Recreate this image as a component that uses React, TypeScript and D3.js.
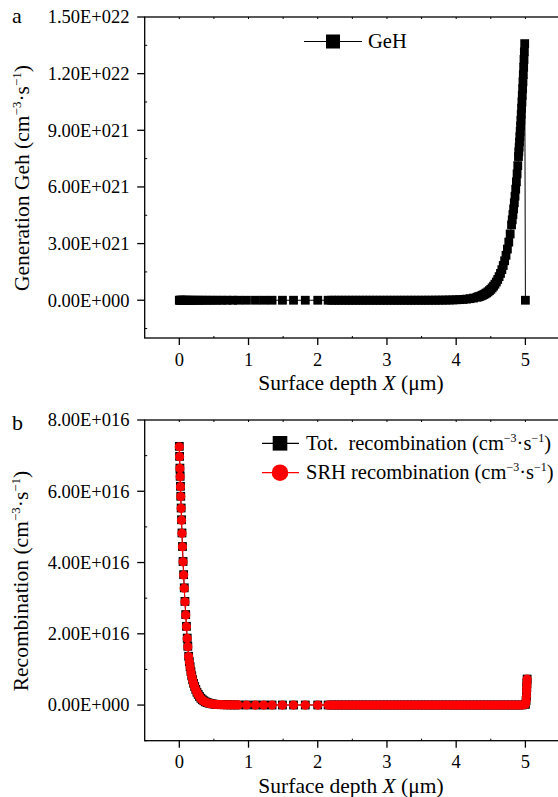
import React from 'react';
import * as d3 from 'd3';

// panel a: hole generation rate along the depth
const depthGeh = [
  0, 0.01, 0.02, 0.03, 0.045, 0.06, 0.08, 0.1, 0.12, 0.15, 0.18, 0.21, 0.25, 0.29, 0.33, 0.38,
  0.43, 0.49, 0.55, 0.62, 0.69, 0.77, 0.85, 0.97, 1.1, 1.22, 1.34, 1.49, 1.65, 1.82, 2.0, 2.15,
  2.2, 2.25, 2.3, 2.35, 2.4, 2.45, 2.5, 2.55, 2.6, 2.65, 2.7, 2.75, 2.8, 2.85, 2.9, 2.95,
  3.0, 3.05, 3.1, 3.15, 3.2, 3.25, 3.3, 3.35, 3.4, 3.45, 3.5, 3.55, 3.6, 3.65, 3.7, 3.75,
  3.8, 3.85, 3.9, 3.95, 4.0, 4.05, 4.1, 4.15, 4.2, 4.25, 4.3, 4.32, 4.34, 4.36, 4.38, 4.4,
  4.42, 4.44, 4.46, 4.48, 4.5, 4.52, 4.54, 4.56, 4.58, 4.6, 4.62, 4.64, 4.66, 4.68, 4.7, 4.72,
  4.74, 4.76, 4.78, 4.8, 4.81, 4.82, 4.83, 4.84, 4.85, 4.86, 4.87, 4.88, 4.89, 4.9, 4.905,
  4.91, 4.915, 4.92, 4.925, 4.93, 4.935, 4.94, 4.945, 4.95, 4.955, 4.96, 4.965, 4.97, 4.975,
  4.98, 4.985, 4.99, 5.0,
];
const gehValues = [
  0, 0, 0, 0, 0, 0, 0, 0, 0, 0, 0, 0, 0, 0, 0, 0,
  0, 0, 0, 0, 0, 0, 0, 0, 0, 0, 0, 0, 0, 0, 0, 0,
  0, 0, 0, 0, 0, 0, 0, 0, 0, 0, 0, 0, 0, 0, 0, 0,
  3.6e16, 5e16, 6.8e16, 9.5e16, 1.3e17, 1.8e17, 2.5e17, 3.5e17, 4.8e17, 6.6e17, 9.1e17, 1.25e18, 1.7e18, 2.4e18, 3.3e18, 4.6e18,
  6.3e18, 8.7e18, 1.2e19, 1.66e19, 2.3e19, 3.2e19, 4.4e19, 6.0e19, 8.3e19, 1.15e20, 1.58e20, 1.8e20, 2.05e20, 2.33e20, 2.66e20, 3.02e20,
  3.44e20, 3.91e20, 4.45e20, 5.06e20, 5.76e20, 6.55e20, 7.45e20, 8.48e20, 9.65e20, 1.1e21, 1.25e21, 1.42e21, 1.62e21, 1.84e21, 2.09e21, 2.38e21,
  2.71e21, 3.08e21, 3.51e21, 3.99e21, 4.26e21, 4.54e21, 4.84e21, 5.16e21, 5.51e21, 5.88e21, 6.27e21, 6.69e21, 7.13e21, 7.61e21, 7.86e21,
  8.11e21, 8.38e21, 8.66e21, 8.94e21, 9.23e21, 9.53e21, 9.85e21, 1.017e22, 1.05e22, 1.085e22, 1.12e22, 1.157e22, 1.195e22, 1.234e22,
  1.275e22, 1.316e22, 1.359e22, 0,
];

// panel b: recombination rates along the depth
const depthRec = [
  0, 0.004, 0.0085, 0.012, 0.0165, 0.021, 0.0265, 0.032, 0.0385, 0.0455, 0.054, 0.0625, 0.0715, 0.0815, 0.0925, 0.103,
  0.114, 0.123, 0.135, 0.145, 0.156, 0.168, 0.18, 0.193, 0.207, 0.222, 0.238, 0.255, 0.273, 0.292, 0.312, 0.333,
  0.355, 0.378, 0.402, 0.428, 0.455, 0.485, 0.52, 0.56, 0.6, 0.645, 0.69, 0.74, 0.795, 0.85, 0.97, 1.1,
  1.22, 1.34, 1.49, 1.65, 1.82, 2.0, 2.15, 2.2, 2.25, 2.3, 2.35, 2.4, 2.45, 2.5, 2.55, 2.6,
  2.65, 2.7, 2.75, 2.8, 2.85, 2.9, 2.95, 3.0, 3.05, 3.1, 3.15, 3.2, 3.25, 3.3, 3.35, 3.4,
  3.45, 3.5, 3.55, 3.6, 3.65, 3.7, 3.75, 3.8, 3.85, 3.9, 3.95, 4.0, 4.05, 4.1, 4.15, 4.2,
  4.25, 4.3, 4.35, 4.4, 4.45, 4.5, 4.55, 4.6, 4.65, 4.7, 4.75, 4.8, 4.85, 4.9, 4.95, 5.0,
  5.01, 5.015, 5.018, 5.02, 5.022, 5.025,
];
const totRecValues = [
  7.26e16, 6.98e16, 6.65e16, 6.42e16, 6.14e16, 5.86e16, 5.53e16, 5.2e16, 4.83e16, 4.45e16, 4.03e16, 3.66e16, 3.29e16, 2.91e16, 2.54e16, 2.21e16,
  1.88e16, 1.65e16, 1.37e16, 1.22e16, 1.08e16, 9.4e15, 8.2e15, 7.1e15, 6.1e15, 5.2e15, 4.4e15, 3.6e15, 3.0e15, 2.4e15, 1.9e15, 1.5e15,
  1.2e15, 9e14, 7e14, 5.4e14, 4.1e14, 3e14, 2.2e14, 1.6e14, 1.2e14, 9e13, 7e13, 5.5e13, 4.5e13, 3.5e13, 2.5e13, 2e13,
  1.5e13, 1.5e13, 1.5e13, 1.5e13, 1.5e13, 1.5e13, 1.5e13, 1.5e13, 1.5e13, 1.5e13, 1.5e13, 1.5e13, 1.5e13, 1.5e13, 1.5e13, 1.5e13,
  1.5e13, 1.5e13, 1.5e13, 1.5e13, 1.5e13, 1.5e13, 1.5e13, 1.5e13, 1.5e13, 1.5e13, 1.5e13, 1.5e13, 1.5e13, 1.5e13, 1.5e13, 1.5e13,
  1.5e13, 1.5e13, 1.5e13, 1.5e13, 1.5e13, 1.5e13, 1.5e13, 1.5e13, 1.5e13, 1.5e13, 1.5e13, 1.5e13, 1.5e13, 1.5e13, 1.5e13, 1.5e13,
  1.5e13, 1.5e13, 1.5e13, 1.5e13, 1.5e13, 1.5e13, 1.5e13, 1.5e13, 1.5e13, 1.5e13, 1.5e13, 1.5e13, 1.5e13, 1.5e13, 1.5e13, 2e14,
  1.2e15, 2.5e15, 3.8e15, 5.0e15, 6.2e15, 7.3e15,
];
const srhRecValues = [
  7.25e16, 6.97e16, 6.64e16, 6.41e16, 6.13e16, 5.85e16, 5.52e16, 5.19e16, 4.82e16, 4.44e16, 4.02e16, 3.65e16, 3.28e16, 2.9e16, 2.53e16, 2.2e16,
  1.87e16, 1.64e16, 1.36e16, 1.21e16, 1.07e16, 9.3e15, 8.1e15, 7.0e15, 6.0e15, 5.1e15, 4.3e15, 3.5e15, 2.9e15, 2.3e15, 1.8e15, 1.4e15,
  1.1e15, 8.5e14, 6.5e14, 5e14, 3.8e14, 2.8e14, 2e14, 1.5e14, 1.1e14, 8e13, 6e13, 5e13, 4e13, 3e13, 2e13, 1e13,
  1e13, 1e13, 1e13, 1e13, 1e13, 1e13, 1e13, 1e13, 1e13, 1e13, 1e13, 1e13, 1e13, 1e13, 1e13, 1e13,
  1e13, 1e13, 1e13, 1e13, 1e13, 1e13, 1e13, 1e13, 1e13, 1e13, 1e13, 1e13, 1e13, 1e13, 1e13, 1e13,
  1e13, 1e13, 1e13, 1e13, 1e13, 1e13, 1e13, 1e13, 1e13, 1e13, 1e13, 1e13, 1e13, 1e13, 1e13, 1e13,
  1e13, 1e13, 1e13, 1e13, 1e13, 1e13, 1e13, 1e13, 1e13, 1e13, 1e13, 1e13, 1e13, 1e13, 1e13, 2e14,
  1.2e15, 2.5e15, 3.8e15, 5.0e15, 6.2e15, 7.3e15,
];

const depthTicks = [0, 1, 2, 3, 4, 5];
const gehTicks = [0, 3e21, 6e21, 9e21, 1.2e22, 1.5e22];
const gehTickLabels = ['0.00E+000', '3.00E+021', '6.00E+021', '9.00E+021', '1.20E+022', '1.50E+022'];
const recTicks = [0, 2e16, 4e16, 6e16, 8e16];
const recTickLabels = ['0.00E+000', '2.00E+016', '4.00E+016', '6.00E+016', '8.00E+016'];

const FONT = '"Liberation Serif", "Times New Roman", serif';
const W = 558;
const H = 797;
const LEFT = 144.7;
const RIGHT = 560;

const x = d3.scaleLinear().domain([-0.5, 5.5]).range([LEFT, RIGHT]);

function Unit({ sup = 13 }) {
  return (
    <>
      (cm
      <tspan dy={-8} fontSize={sup}>−3</tspan>
      <tspan dy={8}>·s</tspan>
      <tspan dy={-8} fontSize={sup}>−1</tspan>
      <tspan dy={8}>)</tspan>
    </>
  );
}

function Frame({ y, ticks, labels, minor, top, bottom }) {
  const minorX = d3.range(0.5, 5.6, 1);
  return (
    <g fontFamily={FONT} fill="#000">
      <rect x={LEFT} y={top} width={RIGHT - LEFT} height={bottom - top} fill="none" stroke="#000" strokeWidth={1.3} />
      {depthTicks.map((t) => (
        <g key={'xb' + t}>
          <line x1={x(t)} x2={x(t)} y1={bottom} y2={bottom + 7} stroke="#000" strokeWidth={1.3} />
          <line x1={x(t)} x2={x(t)} y1={top} y2={top + 2} stroke="#000" strokeWidth={1} />
          <text x={x(t)} y={bottom + 27.5} fontSize={18.5} textAnchor="middle">{t}</text>
        </g>
      ))}
      {minorX.map((t) => (
        <g key={'xm' + t}>
          <line x1={x(t)} x2={x(t)} y1={bottom} y2={bottom - 2} stroke="#000" strokeWidth={1} />
          <line x1={x(t)} x2={x(t)} y1={top} y2={top + 2} stroke="#000" strokeWidth={1} />
        </g>
      ))}
      {ticks.map((t, i) => (
        <g key={'y' + t}>
          <line x1={LEFT - 7.5} x2={LEFT} y1={y(t)} y2={y(t)} stroke="#000" strokeWidth={1.3} />
          <text x={129.5} y={y(t) + 6.3} fontSize={18.5} textAnchor="end">{labels[i]}</text>
        </g>
      ))}
      {minor.map((t) => (
        <line key={'ym' + t} x1={LEFT} x2={LEFT + 2.5} y1={y(t)} y2={y(t)} stroke="#000" strokeWidth={1} />
      ))}
      <text x={351} y={bottom + 52} fontSize={21.5} textAnchor="middle">
        Surface depth <tspan fontStyle="italic">X</tspan> (μm)
      </text>
    </g>
  );
}

export default function App() {
  const yA = d3.scaleLinear().domain([-2e21, 1.5e22]).range([338, 17]);
  const yB = d3.scaleLinear().domain([-1e16, 8e16]).range([740.7, 420]);

  const gehPts = depthGeh.map((d, i) => [x(d), yA(gehValues[i])]);
  const totPts = depthRec.map((d, i) => [x(d), yB(totRecValues[i])]);
  const srhPts = depthRec.map((d, i) => [x(d), yB(srhRecValues[i])]);
  const line = d3.line();
  const sq = 8.8;
  const r = 4.6;

  return (
    <svg width={W} height={H} style={{ position: 'absolute', left: 0, top: 0, background: '#fff' }}>
      <rect width={W} height={H} fill="#fff" />

      {/* panel a */}
      <Frame
        y={yA}
        ticks={gehTicks}
        labels={gehTickLabels}
        minor={d3.range(-1.5e21, 1.5e22, 3e21)}
        top={17}
        bottom={338}
      />
      <text x={12} y={23} fontFamily={FONT} fontSize={22}>a</text>
      <text transform="translate(29,178) rotate(-90)" fontFamily={FONT} fontSize={21.5} textAnchor="middle">
        Generation Geh <Unit />
      </text>
      <path d={line(gehPts)} fill="none" stroke="#000" strokeWidth={1} />
      {gehPts.map(([px, py], i) => (
        <rect key={i} x={px - sq / 2} y={py - sq / 2} width={sq} height={sq} fill="#000" />
      ))}
      <g fontFamily={FONT}>
        <line x1={304} x2={362} y1={41.5} y2={41.5} stroke="#000" strokeWidth={1.2} />
        <rect x={333 - 7} y={41.5 - 7} width={14} height={14} fill="#000" />
        <text x={368} y={48} fontSize={20.5}>GeH</text>
      </g>

      {/* panel b */}
      <Frame
        y={yB}
        ticks={recTicks}
        labels={recTickLabels}
        minor={d3.range(-1e16, 8e16, 2e16)}
        top={420}
        bottom={740.7}
      />
      <text x={12} y={430} fontFamily={FONT} fontSize={22}>b</text>
      <text transform="translate(28,581) rotate(-90)" fontFamily={FONT} fontSize={21.5} textAnchor="middle">
        Recombination <Unit />
      </text>
      <path d={line(totPts)} fill="none" stroke="#000" strokeWidth={1} />
      {totPts.map(([px, py], i) => (
        <rect key={i} x={px - sq / 2} y={py - sq / 2} width={sq} height={sq} fill="#000" />
      ))}
      <path d={line(srhPts)} fill="none" stroke="#ff0000" strokeWidth={1} />
      {srhPts.map(([px, py], i) => (
        <circle key={i} cx={px} cy={py} r={r} fill="#ff0000" />
      ))}
      <g fontFamily={FONT} fontSize={20.5}>
        <line x1={262} x2={299} y1={443.3} y2={443.3} stroke="#000" strokeWidth={1.2} />
        <rect x={280 - 7.3} y={443.3 - 7.3} width={14.6} height={14.6} fill="#000" />
        <text x={306} y={449.5} style={{ whiteSpace: 'pre' }}>
          {'Tot.  recombination '}<Unit sup={12} />
        </text>
        <line x1={262} x2={299} y1={472.7} y2={472.7} stroke="#ff0000" strokeWidth={1.2} />
        <circle cx={280} cy={472.7} r={8.3} fill="#ff0000" />
        <text x={306} y={479} style={{ whiteSpace: 'pre' }}>
          {'SRH recombination '}<Unit sup={12} />
        </text>
      </g>
    </svg>
  );
}
